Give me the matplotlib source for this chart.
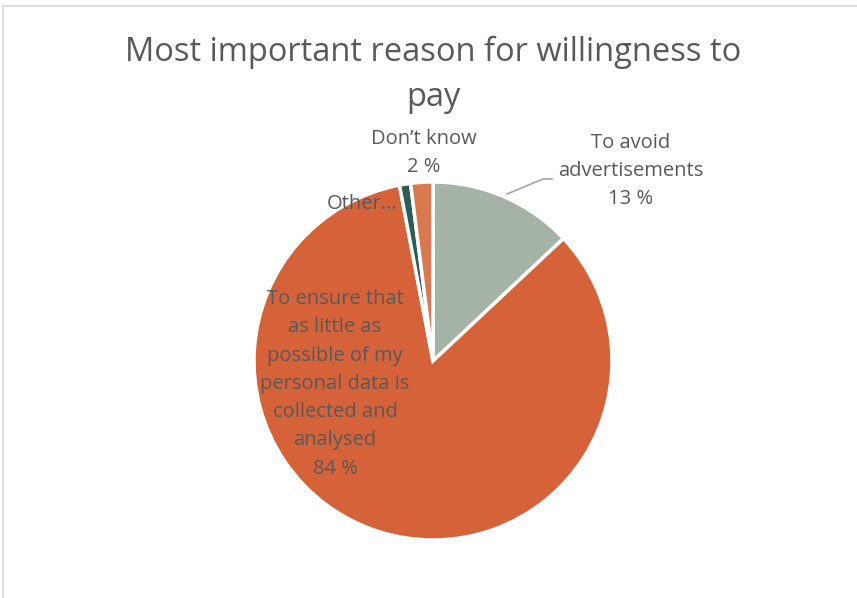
import matplotlib.pyplot as plt
from matplotlib.lines import Line2D

# Data
labels = ["To avoid\nadvertisements", "To ensure that\nas little as\npossible of my\npersonal data is\ncollected and\nanalysed",
          "Other\u2026", "Don\u2019t know"]
values = [13, 84, 1, 2]
colors = ["#A5B3A6", "#D6623A", "#2E5B56", "#D9794F"]

W, H = 857, 598
fig = plt.figure(figsize=(W / 100, H / 100), dpi=100)
ax = fig.add_axes([0, 0, 1, 1])

cx, cy, r = 433, H - 361, 179
ax.pie(values, colors=colors, startangle=90, counterclock=False,
       center=(cx, cy), radius=r, explode=[0, 0, 0.02, 0.02],
       wedgeprops=dict(edgecolor="white", linewidth=2.5))
ax.set_xlim(0, W)
ax.set_ylim(0, H)
ax.set_aspect("equal")
ax.axis("off")

txt = "#595959"
font = "Open Sans"
ax.text(433, H - 75, "Most important reason for willingness to\npay", ha="center", va="center",
        fontsize=23.5, color=txt, family=font, linespacing=1.5)

ax.text(335, H - 384, labels[1] + "\n%d %%" % values[1], ha="center", va="center",
        fontsize=14.5, color=txt, family=font, linespacing=1.55)
ax.text(631, H - 171, labels[0] + "\n%d %%" % values[0], ha="center", va="center",
        fontsize=14.5, color=txt, family=font, linespacing=1.55)
ax.text(424, H - 153, labels[3] + "\n%d %%" % values[3], ha="center", va="center",
        fontsize=14.5, color=txt, family=font, linespacing=1.55)
ax.text(362, H - 204, labels[2], ha="center", va="center",
        fontsize=14.5, color=txt, family=font)

# leader line for advertisements label
ax.plot([507, 543, 552], [H - 194, H - 179, H - 179], color="#A6A6A6", lw=1.2)

# chart border (top and left visible)
fig.add_artist(Line2D([3 / W, 1], [1 - 6 / H, 1 - 6 / H], color="#D9D9D9", lw=1.2))
fig.add_artist(Line2D([3 / W, 3 / W], [0, 1 - 6 / H], color="#D9D9D9", lw=1.2))

fig.savefig("out.png", dpi=100)
